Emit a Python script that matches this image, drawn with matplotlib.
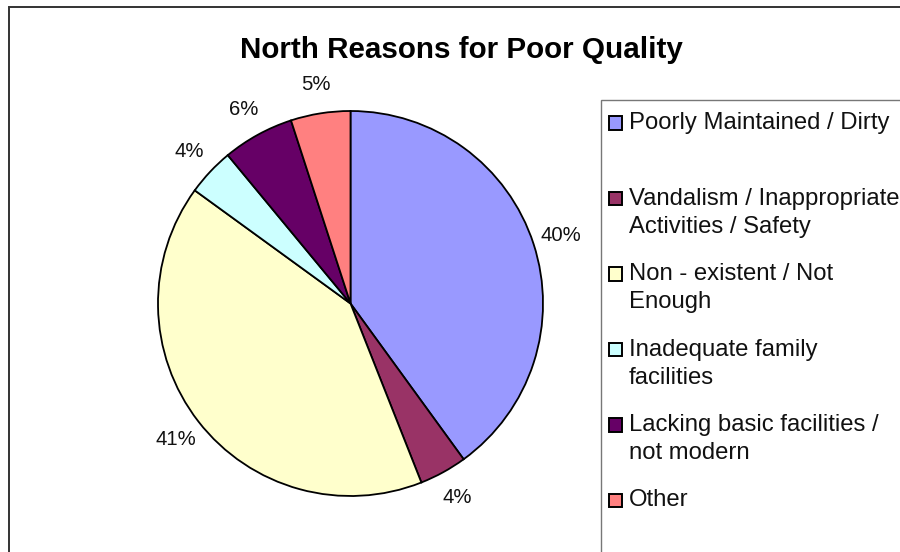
import matplotlib.pyplot as plt
from matplotlib.patches import Rectangle

plt.rcParams['font.family'] = ['Liberation Sans', 'DejaVu Sans']

# chart data
reasons = ["Poorly Maintained / Dirty",
           "Vandalism / Inappropriate\nActivities / Safety",
           "Non - existent / Not\nEnough",
           "Inadequate family\nfacilities",
           "Lacking basic facilities /\nnot modern",
           "Other"]
shares = [40, 4, 41, 4, 6, 5]
colours = ["#9999FF", "#993366", "#FFFFCC", "#CCFFFF", "#660066", "#FF8080"]

W, H = 900, 552
fig = plt.figure(figsize=(W / 100, H / 100), dpi=100)


def fx(x):
    return x / W


def fy(y):
    return 1 - y / H


# outer chart border (runs off the right / bottom edge)
fig.add_artist(Rectangle((fx(8.5), fy(700)), fx(1200), 700 / H - 7.5 / H,
                         transform=fig.transFigure, fill=False,
                         edgecolor="#333333", lw=1.4, clip_on=False))

fig.text(fx(461), fy(50), "North Reasons for Poor Quality", ha="center",
         va="center", fontsize=21.3, fontweight="bold")

# pie axes: centre (350.5, 303.5) px, radius 192.5 px
cx, cy, r = 350.5, 303.5, 192.5
lim = 1.5
half = r * lim
ax = fig.add_axes([fx(cx - half), fy(cy + half), 2 * half / W, 2 * half / H])
ax.pie(shares, colors=colours, startangle=90, counterclock=False, radius=1,
       autopct=lambda p: "%.0f%%" % p, pctdistance=1.15,
       wedgeprops=dict(edgecolor="black", linewidth=1.3),
       textprops=dict(fontsize=14.6, color="#111111"))
ax.set_xlim(-lim, lim)
ax.set_ylim(-lim, lim)
ax.set_aspect("equal")
ax.axis("off")

# legend box drawn by hand so markers line up with the first line
fig.add_artist(Rectangle((fx(600.5), fy(700)), fx(1200), 600 / H,
                         transform=fig.transFigure, fill=False,
                         edgecolor="#777777", lw=1.0, clip_on=False))
y0, step = 123, 75.4
for i, (lab, col) in enumerate(zip(reasons, colours)):
    yc = y0 + i * step
    fig.add_artist(Rectangle((fx(608.5), fy(yc + 7)), 13.5 / W, 13.5 / H,
                             transform=fig.transFigure, facecolor=col,
                             edgecolor="black", lw=1.4))
    fig.text(fx(629), fy(yc - 10.5), lab, ha="left", va="top",
             fontsize=17.2, linespacing=1.35, color="#111111")

fig.savefig("out.png", dpi=100)
